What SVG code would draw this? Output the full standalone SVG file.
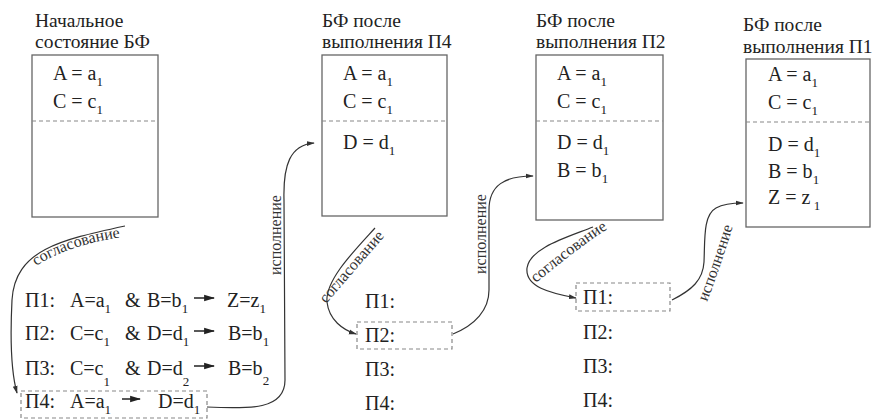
<svg xmlns="http://www.w3.org/2000/svg" width="872" height="419" viewBox="0 0 872 419" font-family="Liberation Serif">
<style>
text{font-family:"Liberation Serif",serif;fill:#222}
.title{font-size:19.5px}
.fact{font-size:20px}
.rule{font-size:20px}
.sub{font-size:13px}
.lbl{font-size:16px;fill:#333}
.box{fill:#fff;stroke:#666;stroke-width:1.3}
.div{stroke:#888;stroke-width:1.2;stroke-dasharray:4 3}
.sel{fill:none;stroke:#888;stroke-width:1.2;stroke-dasharray:4 3}
.conn{fill:none;stroke:#333;stroke-width:1.2;marker-end:url(#ah)}
.rarr{fill:none;stroke:#222;stroke-width:1.5;marker-end:url(#rh)}
</style>
<defs>
<marker id="ah" viewBox="0 0 10 10" refX="9" refY="5" markerWidth="8" markerHeight="8" markerUnits="userSpaceOnUse" orient="auto"><path d="M0,2 L10,5 L0,8 z" fill="#333"/></marker>
<marker id="rh" viewBox="0 0 10 10" refX="9" refY="5" markerWidth="11" markerHeight="11" markerUnits="userSpaceOnUse" orient="auto"><path d="M0,2 L10,5 L0,8 z" fill="#222"/></marker>
<path id="ps1" d="M36,266 C 60,250 95,240 132,236"/>
<path id="ps2" d="M326,304 L 389,231"/>
<path id="ps3" d="M536,283 C 558,265 586,242 614,225"/>
<path id="pe3" d="M707,302 C 716,278 726,250 734,222"/>
</defs>

<g id="bf0">
<rect class="box" x="32" y="55" width="126" height="162"/>
<line class="div" x1="32" y1="121" x2="158" y2="121"/>
<text class="title" x="35" y="27">Начальное</text>
<text class="title" x="35" y="48">состояние БФ</text>
<text class="fact" x="53" y="80">A = a<tspan class="sub" dy="6">1</tspan></text>
<text class="fact" x="53" y="108">C = c<tspan class="sub" dy="6">1</tspan></text>
</g>

<g id="bf4">
<rect class="box" x="322" y="55" width="125" height="161"/>
<line class="div" x1="322" y1="121" x2="447" y2="121"/>
<text class="title" x="322" y="27">БФ после</text>
<text class="title" x="322" y="48">выполнения П4</text>
<text class="fact" x="343" y="80">A = a<tspan class="sub" dy="6">1</tspan></text>
<text class="fact" x="343" y="108">C = c<tspan class="sub" dy="6">1</tspan></text>
<text class="fact" x="343" y="149">D = d<tspan class="sub" dy="6">1</tspan></text>
</g>

<g id="bf2">
<rect class="box" x="536" y="55" width="127" height="165"/>
<line class="div" x1="536" y1="121" x2="663" y2="121"/>
<text class="title" x="536" y="27">БФ после</text>
<text class="title" x="536" y="48">выполнения П2</text>
<text class="fact" x="557" y="80">A = a<tspan class="sub" dy="6">1</tspan></text>
<text class="fact" x="557" y="108">C = c<tspan class="sub" dy="6">1</tspan></text>
<text class="fact" x="557" y="149">D = d<tspan class="sub" dy="6">1</tspan></text>
<text class="fact" x="557" y="177">B = b<tspan class="sub" dy="6">1</tspan></text>
</g>

<g id="bf1">
<rect class="box" x="746" y="59" width="124" height="168"/>
<line class="div" x1="746" y1="122" x2="870" y2="122"/>
<text class="title" x="743" y="31">БФ после</text>
<text class="title" x="743" y="53">выполнения П1</text>
<text class="fact" x="768" y="81">A = a<tspan class="sub" dy="6">1</tspan></text>
<text class="fact" x="768" y="109">C = c<tspan class="sub" dy="6">1</tspan></text>
<text class="fact" x="768" y="151">D = d<tspan class="sub" dy="6">1</tspan></text>
<text class="fact" x="768" y="178">B = b<tspan class="sub" dy="6">1</tspan></text>
<text class="fact" x="768" y="204">Z = z<tspan class="sub" dy="6"> 1</tspan></text>
</g>

<g id="rules0">
<rect class="sel" x="21" y="391" width="186" height="27"/>
<text class="rule" x="25" y="307">П1:</text>
<text class="rule" x="70" y="307">A=a<tspan class="sub" dy="6">1</tspan></text>
<text class="rule" x="125" y="307">&amp;</text>
<text class="rule" x="147" y="307">B=b<tspan class="sub" dy="6">1</tspan></text>
<path class="rarr" d="M194,298 L214,298"/>
<text class="rule" x="227" y="307">Z=z<tspan class="sub" dy="6">1</tspan></text>

<text class="rule" x="25" y="340">П2:</text>
<text class="rule" x="70" y="340">C=c<tspan class="sub" dy="6">1</tspan></text>
<text class="rule" x="125" y="340">&amp;</text>
<text class="rule" x="147" y="340">D=d<tspan class="sub" dy="6">1</tspan></text>
<path class="rarr" d="M194,331 L214,331"/>
<text class="rule" x="228" y="340">B=b<tspan class="sub" dy="6">1</tspan></text>

<text class="rule" x="25" y="375">П3:</text>
<text class="rule" x="70" y="375">C=c<tspan class="sub" dy="11">1</tspan></text>
<text class="rule" x="125" y="375">&amp;</text>
<text class="rule" x="147" y="375">D=d<tspan class="sub" dy="11">2</tspan></text>
<path class="rarr" d="M194,366 L214,366"/>
<text class="rule" x="228" y="375">B=b<tspan class="sub" dy="10">2</tspan></text>

<text class="rule" x="25" y="408">П4:</text>
<text class="rule" x="70" y="408">A=a<tspan class="sub" dy="6">1</tspan></text>
<path class="rarr" d="M122,399 L140,399"/>
<text class="rule" x="158" y="408">D=d<tspan class="sub" dy="6">1</tspan></text>
</g>

<g id="rules1">
<rect class="sel" x="357" y="322" width="95" height="27"/>
<text class="rule" x="365" y="308">П1:</text>
<text class="rule" x="365" y="342">П2:</text>
<text class="rule" x="365" y="376">П3:</text>
<text class="rule" x="365" y="410">П4:</text>
</g>

<g id="rules2">
<rect class="sel" x="576" y="283" width="94" height="28"/>
<text class="rule" x="583" y="304">П1:</text>
<text class="rule" x="583" y="339">П2:</text>
<text class="rule" x="583" y="373">П3:</text>
<text class="rule" x="583" y="407">П4:</text>
</g>

<g id="connectors">
<path class="conn" d="M125,226 C 60,240 15,250 12,300 C 10,340 12,375 17,393"/>
<path class="conn" d="M207,407 C 250,409 285,410 285,380 L 284,200 C 283,165 290,145 314,143"/>
<path class="conn" d="M375,228 C 355,250 325,280 327,302 C 329,320 343,330 356,334"/>
<path class="conn" d="M453,334 C 475,325 489,310 489,290 L 489,210 C 489,185 505,176 533,176"/>
<path class="conn" d="M593,227 C 565,238 530,248 527,268 C 525,287 550,293 576,298"/>
<path class="conn" d="M672,300 C 692,290 703,280 704,262 C 705,240 703,215 716,208 C 725,203 735,203 743,203"/>
<text class="lbl"><textPath href="#ps1">согласование</textPath></text>
<text class="lbl" transform="translate(281,235) rotate(-90)" text-anchor="middle">исполнение</text>
<text class="lbl"><textPath href="#ps2">согласование</textPath></text>
<text class="lbl" transform="translate(486,234) rotate(-90)" text-anchor="middle">исполнение</text>
<text class="lbl"><textPath href="#ps3">согласование</textPath></text>
<text class="lbl"><textPath href="#pe3">исполнение</textPath></text>
</g>
</svg>
